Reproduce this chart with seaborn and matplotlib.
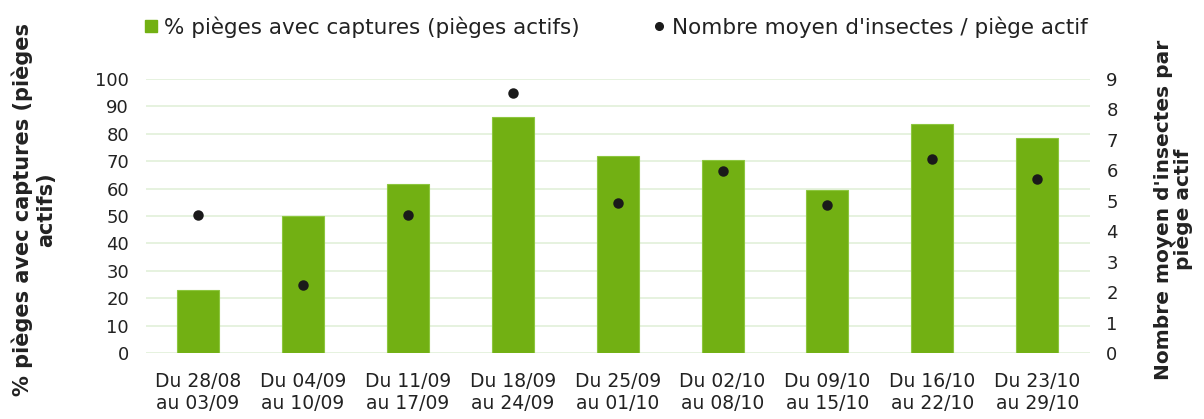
import matplotlib
matplotlib.use("Agg")
import matplotlib.pyplot as plt
import seaborn as sns
import pandas as pd
from matplotlib.lines import Line2D

semaines = ["Du 28/08\nau 03/09", "Du 04/09\nau 10/09", "Du 11/09\nau 17/09",
            "Du 18/09\nau 24/09", "Du 25/09\nau 01/10", "Du 02/10\nau 08/10",
            "Du 09/10\nau 15/10", "Du 16/10\nau 22/10", "Du 23/10\nau 29/10"]
pct_pieges = [23, 50, 61.5, 86, 72, 70.5, 59.5, 83.5, 78.5]
moy_insectes = [4.53, 2.22, 4.53, 8.55, 4.93, 5.97, 4.86, 6.37, 5.72]

df = pd.DataFrame({"semaine": semaines, "pct": pct_pieges, "moy": moy_insectes})

sns.set_style("white")
plt.rcParams["font.family"] = ["DejaVu Sans"]

vert = "#72B013"
fig = plt.figure(figsize=(12.04, 4.19), dpi=100)
ax = fig.add_axes([0.121, 0.1575, 0.784, 0.654])

sns.barplot(data=df, x="semaine", y="pct", color=vert, width=0.4,
            edgecolor="#8DC63F", linewidth=0.8, saturation=1, ax=ax, zorder=2)
ax.set_ylim(0, 100)
ax.set_yticks(range(0, 101, 10))
ax.grid(axis="y", color="#E2F0D9", linewidth=1.2, zorder=0)
ax.set_axisbelow(True)
ax.set_xlabel("")
ax.set_ylabel("")
ax.tick_params(axis="y", labelsize=13, length=0, pad=12, colors="#222222")
ax.tick_params(axis="x", labelsize=13.5, length=0, pad=14, colors="#222222")
for lbl in ax.get_xticklabels():
    lbl.set_linespacing(1.15)
for s in ax.spines.values():
    s.set_visible(False)

ax2 = ax.twinx()
sns.pointplot(data=df, x="semaine", y="moy", color="#1A1A1A", linestyle="none",
              markers="o", markersize=5.5, ax=ax2)
ax2.set_ylim(0, 9)
ax2.set_yticks(range(0, 10))
ax2.set_ylabel("")
ax2.tick_params(axis="y", labelsize=13, length=0, pad=12, colors="#222222")
ax2.grid(False)
for s in ax2.spines.values():
    s.set_visible(False)

fig.text(0.028, 0.5, "% pièges avec captures (pièges\nactifs)", rotation=90,
         ha="center", va="center", multialignment="center",
         fontsize=15, fontweight="bold", color="#222222")
fig.text(0.975, 0.5, "Nombre moyen d'insectes par\npiège actif", rotation=90,
         ha="center", va="center", multialignment="center",
         fontsize=14.5, fontweight="bold", color="#222222", linespacing=1.0)

handles = [Line2D([], [], color=vert, marker="s", linestyle="none", markersize=8,
                  label="% pièges avec captures (pièges actifs)"),
           Line2D([], [], color="#1A1A1A", marker="o", linestyle="none", markersize=5.5,
                  label="Nombre moyen d'insectes / piège actif")]
fig.legend(handles=handles, loc="center", bbox_to_anchor=(0.512, 0.936), ncol=2,
           frameon=False, fontsize=15.5, columnspacing=3.4, handlelength=0.6,
           handletextpad=0.3, labelcolor="#222222")

fig.savefig("out.png", dpi=100)
